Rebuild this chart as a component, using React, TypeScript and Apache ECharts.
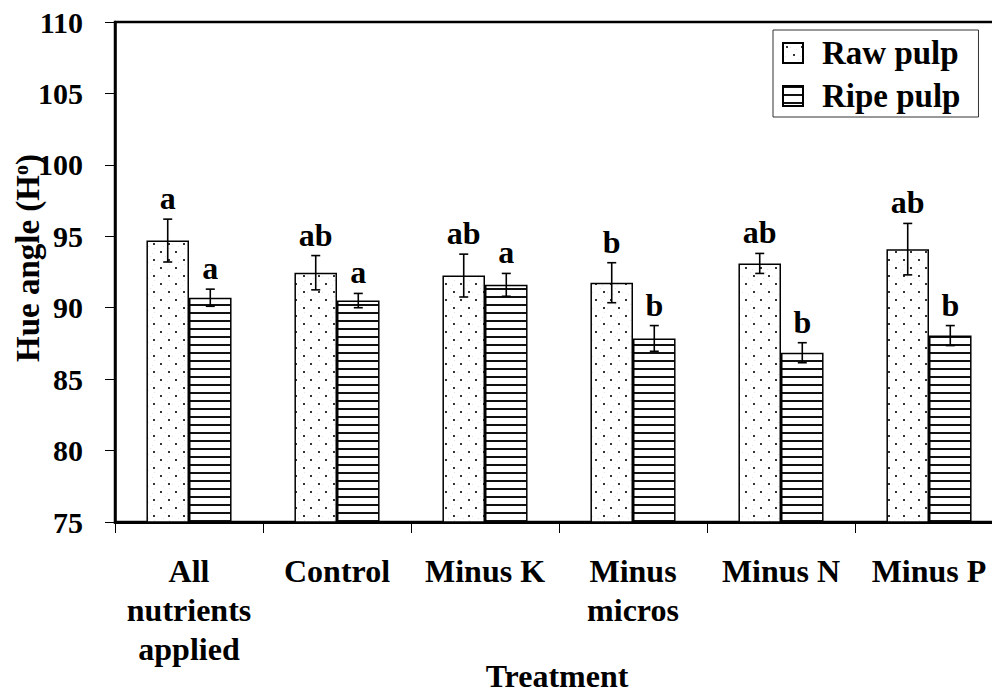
import React, { useEffect, useRef } from "react";
import * as echarts from "echarts";

const categories = ["All\nnutrients\napplied", "Control", "Minus K", "Minus\nmicros", "Minus N", "Minus P"];
const rawPulp = [94.7, 92.45, 92.25, 91.75, 93.1, 94.1];
const rawPulpErr = [1.5, 1.2, 1.5, 1.4, 0.7, 1.8];
const ripePulp = [90.7, 90.5, 91.6, 87.85, 86.85, 88.05];
const ripePulpErr = [0.6, 0.5, 0.8, 0.9, 0.7, 0.7];
const rawLetters = ["a", "ab", "ab", "b", "ab", "ab"];
const ripeLetters = ["a", "a", "a", "b", "b", "b"];
const yTicks = { min: 75, max: 110, interval: 5 };
const xTitle = "Treatment";
const yTitle = "Hue angle (H{sup|o})";

const FONT = "'Liberation Serif', 'Times New Roman', serif";

function dotPattern(): HTMLCanvasElement {
  const c = document.createElement("canvas");
  c.width = 15;
  c.height = 16;
  const g = c.getContext("2d")!;
  g.fillStyle = "#ffffff";
  g.fillRect(0, 0, 15, 16);
  // faint speckle background
  g.fillStyle = "#e4e4e4";
  [[0, 0], [7, 4], [4, 8], [11, 12], [13, 6], [2, 13]].forEach(([x, y]) => g.fillRect(x, y, 1, 1));
  g.fillStyle = "#333333";
  g.fillRect(3, 3, 2, 2);
  g.fillRect(10, 11, 2, 2);
  return c;
}

function linePattern(): HTMLCanvasElement {
  const c = document.createElement("canvas");
  c.width = 8;
  c.height = 8;
  const g = c.getContext("2d")!;
  g.fillStyle = "#ffffff";
  g.fillRect(0, 0, 8, 8);
  g.fillStyle = "#111111";
  g.fillRect(0, 0, 8, 2);
  return c;
}

function errorSeries(values: number[], errs: number[], letters: string[], side: number) {
  return {
    type: "custom",
    z: 5,
    data: values.map((v, i) => [i, v, errs[i]]),
    encode: { x: 0, y: 1 },
    renderItem: (params: any, api: any) => {
      const i = api.value(0);
      const mean = api.value(1);
      const e = api.value(2);
      const band = api.size([1, 0])[0];
      const off = side * band * 0.14375;
      const top = api.coord([i, mean + e]);
      const bot = api.coord([i, mean - e]);
      const x = top[0] + off;
      const cap = 4.5;
      const ls = { stroke: "#000", lineWidth: 1.6 };
      return {
        type: "group",
        children: [
          { type: "line", shape: { x1: x, y1: top[1], x2: x, y2: bot[1] }, style: ls },
          { type: "line", shape: { x1: x - cap, y1: top[1], x2: x + cap, y2: top[1] }, style: ls },
          { type: "line", shape: { x1: x - cap, y1: bot[1], x2: x + cap, y2: bot[1] }, style: ls },
          {
            type: "text",
            x,
            y: top[1] - 5,
            style: {
              text: letters[params.dataIndex],
              fontFamily: FONT,
              fontWeight: "bold",
              fontSize: 32,
              fill: "#000",
              align: "center",
              verticalAlign: "bottom",
            },
          },
        ],
      };
    },
  };
}

export default function App() {
  const ref = useRef<HTMLDivElement>(null);

  useEffect(() => {
    if (!ref.current) return;
    const chart = echarts.init(ref.current, undefined, { renderer: "svg" });
    const dots = { image: dotPattern(), repeat: "repeat" };
    const lines = { image: linePattern(), repeat: "repeat" };

    chart.setOption({
      animation: false,
      backgroundColor: "#ffffff",
      textStyle: { fontFamily: FONT, fontWeight: "bold", color: "#000" },
      grid: {
        left: 115,
        top: 22,
        width: 888,
        height: 500,
        outerBoundsMode: "none",
        containLabel: false,
        show: true,
        borderColor: "#000",
        borderWidth: 2.5,
        backgroundColor: "transparent",
      },
      // axis titles
      graphic: [
        {
          type: "text",
          x: 557,
          y: 676,
          style: {
            text: xTitle,
            fontFamily: FONT,
            fontWeight: "bold",
            fontSize: 32,
            fill: "#000",
            align: "center",
            verticalAlign: "middle",
          },
        },
        {
          type: "text",
          x: 28,
          y: 258,
          rotation: Math.PI / 2,
          style: {
            text: yTitle,
            fontFamily: FONT,
            fontWeight: "bold",
            fontSize: 33,
            fill: "#000",
            align: "center",
            verticalAlign: "middle",
            rich: {
              sup: { fontFamily: FONT, fontWeight: "bold", fontSize: 20, fill: "#000", padding: [0, 0, 15, 0] },
            },
          },
        },
      ],
      legend: {
        data: ["Raw pulp", "Ripe pulp"],
        orient: "vertical",
        left: 773,
        top: 30,
        padding: [5, 18, 3, 9],
        itemWidth: 20,
        itemHeight: 20,
        itemGap: 7,
        borderColor: "#333",
        borderWidth: 1,
        icon: "rect",
        textStyle: {
          fontFamily: FONT,
          fontWeight: "bold",
          fontSize: 33,
          lineHeight: 36,
          color: "#000",
          padding: [0, 0, 0, 14],
        },
      },
      xAxis: {
        type: "category",
        data: categories,
        axisLine: { lineStyle: { color: "#000", width: 3 } },
        axisTick: { show: true, length: 11, interval: 0, lineStyle: { color: "#000", width: 1 } },
        axisLabel: {
          interval: 0,
          margin: 29,
          fontFamily: FONT,
          fontWeight: "bold",
          fontSize: 32,
          lineHeight: 39,
          color: "#000",
        },
      },
      yAxis: {
        type: "value",
        min: yTicks.min,
        max: yTicks.max,
        interval: yTicks.interval,
        splitLine: { show: false },
        axisLine: { show: true, lineStyle: { color: "#000", width: 2.5 } },
        axisTick: { show: true, length: 10, lineStyle: { color: "#000", width: 1 } },
        axisLabel: { margin: 32, fontFamily: FONT, fontWeight: "bold", fontSize: 30, color: "#000" },
      },
      series: [
        {
          name: "Raw pulp",
          type: "bar",
          data: rawPulp,
          barGap: "0%",
          barCategoryGap: "42.5%",
          itemStyle: { color: dots, borderColor: "#000", borderWidth: 1.5 },
        },
        {
          name: "Ripe pulp",
          type: "bar",
          data: ripePulp,
          barGap: "0%",
          barCategoryGap: "42.5%",
          itemStyle: { color: lines, borderColor: "#000", borderWidth: 1.5 },
        },
        errorSeries(rawPulp, rawPulpErr, rawLetters, -1),
        errorSeries(ripePulp, ripePulpErr, ripeLetters, 1),
      ],
    });

    return () => chart.dispose();
  }, []);

  return <div ref={ref} style={{ position: "fixed", left: 0, top: 0, width: 992, height: 694 }} />;
}
